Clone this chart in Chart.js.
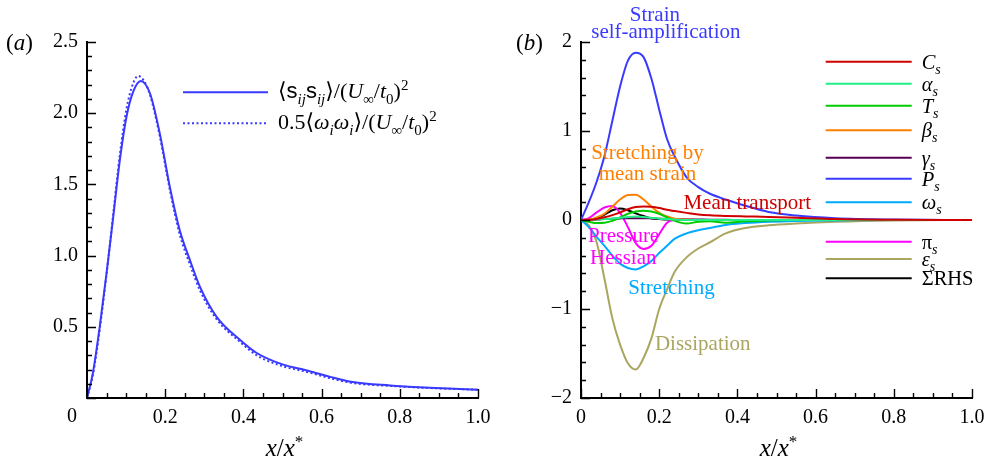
<!DOCTYPE html>
<html>
<head>
<meta charset="utf-8">
<script src="https://cdn.jsdelivr.net/npm/chart.js@4/dist/chart.umd.min.js"></script>
<style>
  body { margin: 0; background: #fff; }
  .panel { position: absolute; top: 0; width: 494px; height: 466px; }
  #pa { left: 0; }
  #pb { left: 494px; }
</style>
</head>
<body>
<div class="panel" id="pa"><canvas id="chartA" width="494" height="466"></canvas></div>
<div class="panel" id="pb"><canvas id="chartB" width="494" height="466"></canvas></div>
<script>
// ---- panel (a) data ----
const xStrain = [0, 0.015, 0.0325, 0.05, 0.067, 0.084, 0.101, 0.118, 0.1375, 0.161, 0.186, 0.212, 0.237, 0.263, 0.289, 0.331, 0.391, 0.434, 0.502, 0.56, 0.62, 0.68, 0.775, 0.861, 1.0]
const strainSq = [0.0, 0.175, 0.50, 0.877, 1.27, 1.67, 1.975, 2.15, 2.227, 2.14, 1.86, 1.48, 1.18, 0.97, 0.78, 0.572, 0.409, 0.316, 0.234, 0.195, 0.15, 0.112, 0.088, 0.074, 0.058]
const xVort = [0, 0.015, 0.0325, 0.05, 0.067, 0.084, 0.101, 0.118, 0.131, 0.145, 0.161, 0.186, 0.212, 0.237, 0.263, 0.289, 0.331, 0.391, 0.434, 0.502, 0.56, 0.62, 0.68, 0.775, 0.861, 1.0]
const vortSq = [0.0, 0.16, 0.48, 0.87, 1.29, 1.71, 2.03, 2.21, 2.262, 2.23, 2.13, 1.84, 1.46, 1.15, 0.94, 0.755, 0.555, 0.395, 0.30, 0.222, 0.185, 0.14, 0.105, 0.085, 0.072, 0.058]

// ---- panel (b) data ----
const xs = [0, 0.02, 0.04, 0.06, 0.08, 0.10, 0.12, 0.14, 0.16, 0.18, 0.20, 0.22, 0.24, 0.27, 0.30, 0.33, 0.37, 0.42, 0.48, 0.55, 0.65, 0.8, 1.0]
const Cs    = [0, 0.0, 0.01, 0.03, 0.055, 0.085, 0.12, 0.145, 0.152, 0.148, 0.135, 0.115, 0.10, 0.08, 0.062, 0.052, 0.045, 0.04, 0.035, 0.025, 0.01, 0.003, 0]
const alphaS = [0, 0.0, 0.005, 0.01, 0.015, 0.025, 0.035, 0.04, 0.035, 0.025, 0.015, 0.01, 0.005, 0.0, 0, 0, 0, 0, 0, 0, 0, 0, 0]
const Ts    = [0, -0.02, -0.035, -0.03, -0.01, 0.03, 0.07, 0.095, 0.105, 0.095, 0.07, 0.03, -0.01, -0.04, -0.02, -0.015, -0.03, -0.015, -0.005, 0, 0, 0, 0]
const betaS = [0, 0.005, 0.03, 0.07, 0.15, 0.23, 0.28, 0.285, 0.23, 0.15, 0.08, 0.04, 0.015, 0.005, 0, 0, 0, 0, 0, 0, 0, 0, 0]
const gammaS = [0, 0.002, 0.005, 0.01, 0.015, 0.018, 0.02, 0.02, 0.02, 0.018, 0.015, 0.012, 0.01, 0.007, 0.005, 0.003, 0.002, 0, 0, 0, 0, 0, 0]
const Ps    = [0, 0.20, 0.43, 0.72, 1.11, 1.50, 1.79, 1.88, 1.83, 1.59, 1.24, 0.91, 0.71, 0.48, 0.37, 0.295, 0.23, 0.16, 0.09, 0.05, 0.02, 0.005, 0]
const omegaS = [0, -0.08, -0.19, -0.29, -0.40, -0.49, -0.54, -0.555, -0.52, -0.46, -0.37, -0.29, -0.21, -0.15, -0.115, -0.09, -0.055, -0.035, -0.02, -0.01, -0.005, 0, 0]
const piS   = [0, 0.02, 0.085, 0.14, 0.157, 0.08, -0.08, -0.26, -0.325, -0.29, -0.16, -0.03, 0.0, 0.005, 0, 0, 0, 0, 0, 0, 0, 0, 0]
const epsS  = [0, -0.06, -0.25, -0.66, -1.10, -1.40, -1.61, -1.68, -1.55, -1.33, -1.00, -0.78, -0.58, -0.42, -0.32, -0.25, -0.15, -0.09, -0.06, -0.04, -0.02, -0.005, 0]
const rhs   = [0, 0.005, 0.02, 0.06, 0.11, 0.13, 0.11, 0.075, 0.045, 0.02, 0.01, 0.005, 0, 0, 0, 0, 0, 0, 0, 0, 0, 0, 0]

const seriesB = [
  { name: [['C', 'i'], ['s', 'subi']], data: Cs, color: '#d00000' },
  { name: [['α', 'i'], ['s', 'subi']], data: alphaS, color: '#22ee88' },
  { name: [['T', 'i'], ['s', 'subi']], data: Ts, color: '#00cc00' },
  { name: [['β', 'i'], ['s', 'subi']], data: betaS, color: '#ff8000' },
  { name: [['γ', 'i'], ['s', 'subi']], data: gammaS, color: '#550055' },
  { name: [['P', 'i'], ['s', 'subi']], data: Ps, color: '#3a3aff' },
  { name: [['ω', 'i'], ['s', 'subi']], data: omegaS, color: '#00aaff' },
  { name: [['π', 'r'], ['s', 'subi']], data: piS, color: '#ff00ff' },
  { name: [['ε', 'i'], ['s', 'subi']], data: epsS, color: '#aaa660' },
  { name: [['ΣRHS', 'r']], data: rhs, color: '#000000' }
]
const legendRowsB = [61.7, 83.7, 105.7, 130.3, 157.7, 178.7, 202.3, 241.7, 259, 278.3]

const notesB = [
  { text: 'Strain', x: 0.189, y: 2.24, align: 'center', color: '#3a3aff' },
  { text: 'self-amplification', x: 0.217, y: 2.045, align: 'center', color: '#3a3aff' },
  { text: 'Stretching by', x: 0.170, y: 0.685, align: 'center', color: '#ff8000' },
  { text: 'mean strain', x: 0.170, y: 0.45, align: 'center', color: '#ff8000' },
  { text: 'Mean transport', x: 0.262, y: 0.12, align: 'left', color: '#d00000' },
  { text: 'Pressure', x: 0.018, y: -0.244, align: 'left', color: '#ff00ff' },
  { text: 'Hessian', x: 0.023, y: -0.498, align: 'left', color: '#ff00ff' },
  { text: 'Stretching', x: 0.121, y: -0.835, align: 'left', color: '#00aaff' },
  { text: 'Dissipation', x: 0.189, y: -1.46, align: 'left', color: '#aaa660' }
]

const SERIF = '"Liberation Serif", "DejaVu Serif", serif'
const BLUE = '#3a3aff'

function toPts(xv, yv) {
  return xv.map((x, i) => ({ x: x, y: yv[i] }))
}

// draws text made of pieces: r = roman, i = italic, sans, sub/subi = subscript, sup
function rich(ctx, x, y, parts, size, color, measureOnly) {
  ctx.save()
  ctx.fillStyle = color || '#000'
  ctx.textAlign = 'left'
  ctx.textBaseline = 'alphabetic'
  let x0 = x
  parts.forEach(([t, st]) => {
    let sz = size, dy = 0
    if (st == 'sub' || st == 'subi') { sz = Math.round(size * 0.68); dy = size * 0.25 }
    if (st == 'sup') { sz = Math.round(size * 0.68); dy = -size * 0.38 }
    const ital = (st == 'i' || st == 'subi')
    const fam = st == 'sans' ? '"Liberation Sans", sans-serif' : SERIF
    ctx.font = (ital ? 'italic ' : '') + sz + 'px ' + fam
    if (!measureOnly) ctx.fillText(t, x0, y + dy)
    x0 += ctx.measureText(t).width
  })
  ctx.restore()
  return x0 - x
}

function isMajor(v, step) {
  const r = v / step
  return Math.abs(r - Math.round(r)) < 1e-6
}

// inward tick marks + x title + panel letter
const frame = {
  id: 'frame',
  afterDraw(chart, args, opts) {
    const ctx = chart.ctx
    const a = chart.chartArea
    const sx = chart.scales.x, sy = chart.scales.y
    ctx.save()
    ctx.strokeStyle = '#000'
    ctx.lineWidth = 1.4
    ctx.beginPath()
    sx.ticks.forEach(t => {
      const px = Math.round(sx.getPixelForValue(t.value)) + 0.5
      const len = isMajor(t.value, 0.2) ? 9 : 5
      ctx.moveTo(px, a.bottom)
      ctx.lineTo(px, a.bottom - len)
    })
    sy.ticks.forEach(t => {
      const py = Math.round(sy.getPixelForValue(t.value)) + 0.5
      const len = isMajor(t.value, opts.yMajor) ? 9 : 5
      ctx.moveTo(a.left, py)
      ctx.lineTo(a.left + len, py)
    })
    ctx.stroke()
    ctx.restore()

    const title = [['x', 'i'], ['/', 'r'], ['x', 'i'], ['*', 'sup']]
    const w = rich(ctx, 0, 0, title, 25, '#000', true)
    rich(ctx, (a.left + a.right) / 2 - w / 2 + 2, 456, title, 25, '#000')
    rich(ctx, opts.letterX, 50, [['(', 'r'], [opts.letter, 'i'], [')', 'r']], 23, '#000')
    if (opts.corner) {
      ctx.save()
      ctx.font = '20px ' + SERIF
      ctx.textAlign = 'center'
      ctx.fillStyle = '#000'
      ctx.fillText('0', 72, 422)
      ctx.restore()
    }
  }
}

const legendA = {
  id: 'legendA',
  afterDraw(chart) {
    const ctx = chart.ctx
    ctx.save()
    ctx.strokeStyle = BLUE
    ctx.lineWidth = 2
    ctx.beginPath(); ctx.moveTo(183, 92.3); ctx.lineTo(268, 92.3); ctx.stroke()
    ctx.setLineDash([2, 2.5])
    ctx.beginPath(); ctx.moveTo(183, 123.3); ctx.lineTo(268, 123.3); ctx.stroke()
    ctx.restore()
    const tail = [['⟩/(', 'r'], ['U', 'i'], ['∞', 'sub'], ['/', 'r'], ['t', 'i'], ['0', 'sub'], [')', 'r'], ['2', 'sup']]
    rich(ctx, 278, 98, [['⟨', 'r'], ['s', 'sans'], ['ij', 'subi'], ['s', 'sans'], ['ij', 'subi']].concat(tail), 22, '#000')
    rich(ctx, 278, 129, [['0.5⟨', 'r'], ['ω', 'i'], ['i', 'subi'], ['ω', 'i'], ['i', 'subi']].concat(tail), 22, '#000')
  }
}

const legendB = {
  id: 'legendB',
  afterDraw(chart) {
    const ctx = chart.ctx
    const sx = chart.scales.x, sy = chart.scales.y
    seriesB.forEach((s, i) => {
      const y = legendRowsB[i]
      ctx.save()
      ctx.strokeStyle = s.color
      ctx.lineWidth = 2
      ctx.beginPath(); ctx.moveTo(331.7, y); ctx.lineTo(417.7, y); ctx.stroke()
      ctx.restore()
      rich(ctx, 427.7, y + 7, s.name, 20.5, '#000')
    })
    ctx.save()
    ctx.font = '21px ' + SERIF
    notesB.forEach(n => {
      ctx.fillStyle = n.color
      ctx.textAlign = n.align
      ctx.fillText(n.text, sx.getPixelForValue(n.x), sy.getPixelForValue(n.y))
    })
    ctx.restore()
  }
}

function scalesFor(yMin, yMax, yStep, yMajor, yLabel, xLabel) {
  return {
    x: {
      type: 'linear', min: 0, max: 1,
      grid: { display: false, drawTicks: false },
      border: { display: true, color: '#000', width: 2 },
      ticks: {
        stepSize: 0.05, maxTicksLimit: 100, autoSkip: false, maxRotation: 0,
        padding: 8, color: '#000', font: { family: 'Liberation Serif', size: 20 },
        callback: xLabel
      },
      afterFit(s) { s.height = 68; s.paddingLeft = 0; s.paddingRight = 0 }
    },
    y: {
      type: 'linear', min: yMin, max: yMax,
      grid: { display: false, drawTicks: false },
      border: { display: true, color: '#000', width: 2 },
      ticks: {
        stepSize: yStep, maxTicksLimit: 100, autoSkip: false,
        padding: 9, color: '#000', font: { family: 'Liberation Serif', size: 20 },
        callback: v => isMajor(v, yMajor) ? yLabel(v) : ''
      },
      afterFit(s) { s.width = 87; s.paddingTop = 0; s.paddingBottom = 0 }
    }
  }
}

const baseOpts = {
  responsive: false,
  animation: false,
  devicePixelRatio: 1,
  layout: { padding: { top: 42, right: 16, bottom: 0, left: 0 } },
  elements: { point: { radius: 0 }, line: { borderWidth: 2, cubicInterpolationMode: 'monotone' } },
  plugins: { legend: { display: false }, tooltip: { enabled: false } }
}

new Chart(document.getElementById('chartA'), {
  type: 'line',
  data: {
    datasets: [
      { data: toPts(xStrain, strainSq), borderColor: BLUE },
      { data: toPts(xVort, vortSq), borderColor: BLUE, borderDash: [2, 2.5] }
    ]
  },
  options: Object.assign({}, baseOpts, {
    scales: scalesFor(0, 2.5, 0.1, 0.5,
      v => (v === 0 ? '' : v.toFixed(1)),
      v => (isMajor(v, 0.2) && v > 0.01 ? v.toFixed(1) : '')),
    plugins: Object.assign({}, baseOpts.plugins, { frame: { letter: 'a', letterX: 6, yMajor: 0.5, corner: true } })
  }),
  plugins: [frame, legendA]
})

new Chart(document.getElementById('chartB'), {
  type: 'line',
  data: {
    datasets: seriesB.map(s => ({ data: toPts(xs, s.data), borderColor: s.color }))
  },
  options: Object.assign({}, baseOpts, {
    scales: scalesFor(-2, 2, 0.2, 1,
      v => (v < 0 ? '\u2212' + Math.abs(v).toFixed(0) : v.toFixed(0)),
      v => (isMajor(v, 0.2) ? (v === 0 ? '0' : v.toFixed(1)) : '')),
    plugins: Object.assign({}, baseOpts.plugins, { frame: { letter: 'b', letterX: 22, yMajor: 1, corner: false } })
  }),
  plugins: [frame, legendB]
})
</script>
</body>
</html>
